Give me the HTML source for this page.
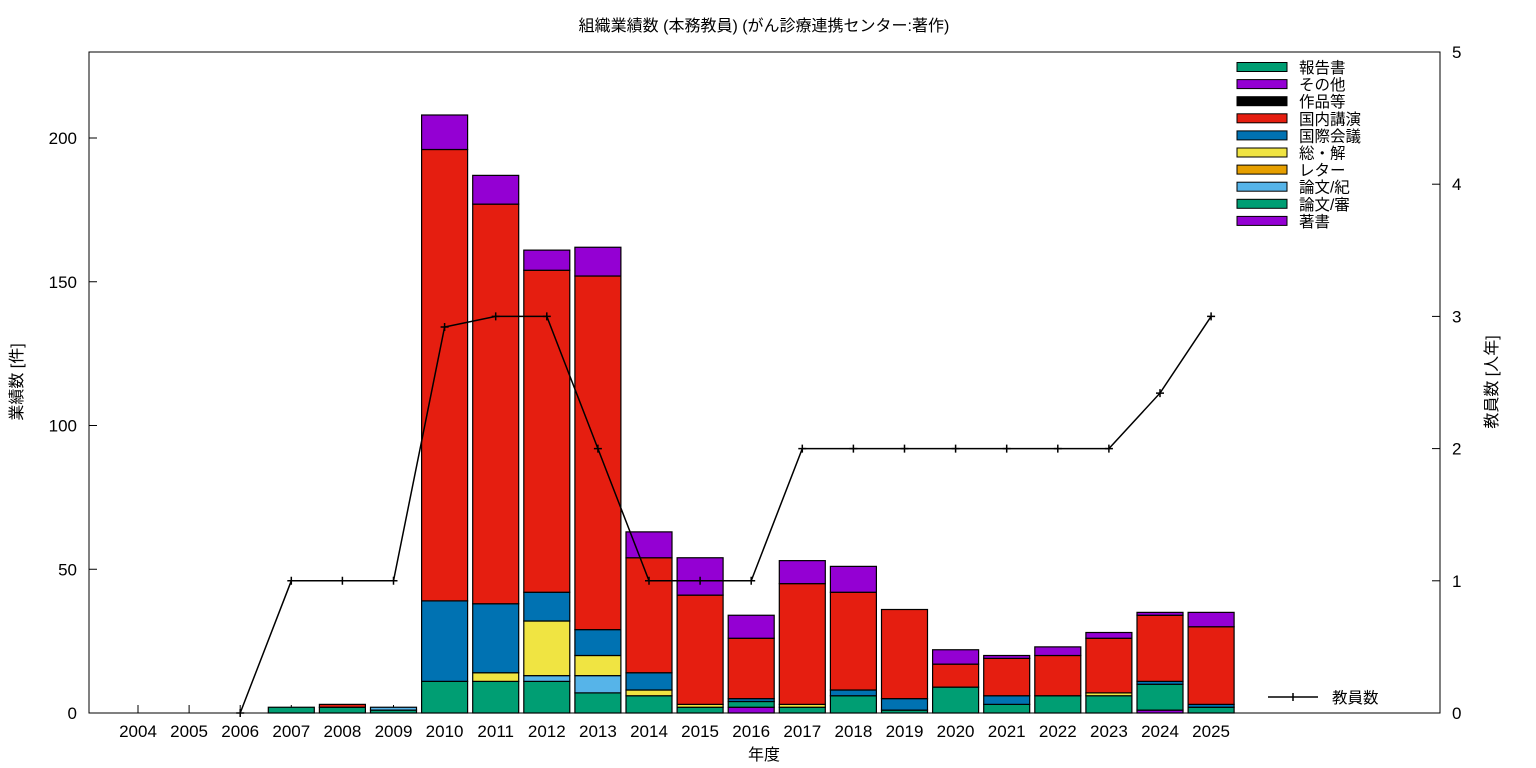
<!DOCTYPE html><html><head><meta charset="utf-8"><style>body{margin:0;background:#fff}svg{display:block;font-family:"Liberation Sans","Noto Sans CJK JP",sans-serif}</style></head><body>
<svg id="s" width="1536" height="768" xmlns="http://www.w3.org/2000/svg"></svg>
<script>
const s=document.getElementById('s');let h='';
const X0=89,X1=1440,Y0=52,Y1=713;
const yl=v=>Y1-v*2.875, yr=v=>Y1-v*132.2, xc=y=>138+(y-2004)*51.1;
h+=`<rect x="${X0}" y="${Y0}" width="${X1-X0}" height="${Y1-Y0}" fill="none" stroke="#000"/>`;
for(let v=0;v<=200;v+=50){let y=yl(v);h+=`<line x1="${X0}" y1="${y}" x2="${X0+8}" y2="${y}" stroke="#000"/><text x="${X0-12}" y="${y+6}" font-size="17" text-anchor="end">${v}</text>`;}
for(let v=0;v<=5;v++){let y=yr(v);h+=`<line x1="${X1-8}" y1="${y}" x2="${X1}" y2="${y}" stroke="#000"/><text x="${X1+12}" y="${y+6}" font-size="17">${v}</text>`;}
for(let yr_=2004;yr_<=2025;yr_++){let x=xc(yr_);h+=`<line x1="${x}" y1="${Y1}" x2="${x}" y2="${Y1-8}" stroke="#000"/><text x="${x}" y="${Y1+24}" font-size="17" text-anchor="middle">${yr_}</text>`;}
const C=['#9400d3','#009e73','#56b4e9','#e69f00','#f0e442','#0072b2','#e51e10','#000','#9400d3','#009e73'];
const D={2007:[0,2],2008:[0,2,0,0,0,0,1],2009:[0,1,1],2010:[0,11,0,0,0,28,157,0,12],2011:[0,11,0,0,3,24,139,0,10],
2012:[0,11,2,0,19,10,112,0,7],2013:[0,7,6,0,7,9,123,0,10],2014:[0,6,0,0,2,6,40,0,9],2015:[0,2,0,0,1,0,38,0,13],
2016:[2,2,0,0,0,1,21,0,8],2017:[0,2,0,0,1,0,42,0,8],2018:[0,6,0,0,0,2,34,0,9],2019:[0,1,0,0,0,4,31],
2020:[0,9,0,0,0,0,8,0,5],2021:[0,3,0,0,0,3,13,0,1],2022:[0,6,0,0,0,0,14,0,3],2023:[0,6,0,0,1,0,19,0,2],
2024:[1,9,0,0,0,1,23,0,1],2025:[0,2,0,0,0,1,27,0,5]};
for(const k in D){let x=xc(+k)-23,c=0;D[k].forEach((v,i)=>{if(!v)return;let y=yl(c+v);h+=`<rect x="${x}" y="${y}" width="46" height="${v*2.875}" fill="${C[i]}" stroke="#000" stroke-width="1.2"/>`;c+=v;});}
const L=[[2006,0],[2007,1],[2008,1],[2009,1],[2010,2.92],[2011,3],[2012,3],[2013,2],[2014,1],[2015,1],[2016,1],[2017,2],[2018,2],[2019,2],[2020,2],[2021,2],[2022,2],[2023,2],[2024,2.42],[2025,3]];
h+=`<polyline fill="none" stroke="#000" stroke-width="1.5" points="${L.map(p=>xc(p[0])+','+yr(p[1])).join(' ')}"/>`;
L.forEach(p=>{let x=xc(p[0]),y=yr(p[1]);h+=`<path d="M${x-4} ${y}H${x+4}M${x} ${y-4}V${y+4}" stroke="#000" stroke-width="1.5"/>`;});
const N=['報告書','その他','作品等','国内講演','国際会議','総・解','レター','論文/紀','論文/審','著書'];
N.forEach((n,i)=>{let y=67+i*17.1;h+=`<rect x="1237" y="${y-4.5}" width="50" height="9" fill="${C[9-i]}" stroke="#000"/><text x="1299" y="${y+6}" font-size="15.5">${n}</text>`;});
h+=`<line x1="1268" y1="697" x2="1318" y2="697" stroke="#000" stroke-width="1.5"/><path d="M1293 693V701" stroke="#000" stroke-width="1.5"/><text x="1332" y="703" font-size="15.5">教員数</text>`;
h+=`<text x="764" y="31" font-size="16" text-anchor="middle">組織業績数 (本務教員) (がん診療連携センター:著作)</text>`;
h+=`<text x="764" y="760" font-size="16" text-anchor="middle">年度</text>`;
h+=`<text transform="translate(22,382) rotate(-90)" font-size="16" text-anchor="middle">業績数 [件]</text>`;
h+=`<text transform="translate(1497,382) rotate(-90)" font-size="16" text-anchor="middle">教員数 [人年]</text>`;
s.innerHTML=h;
</script></body></html>
